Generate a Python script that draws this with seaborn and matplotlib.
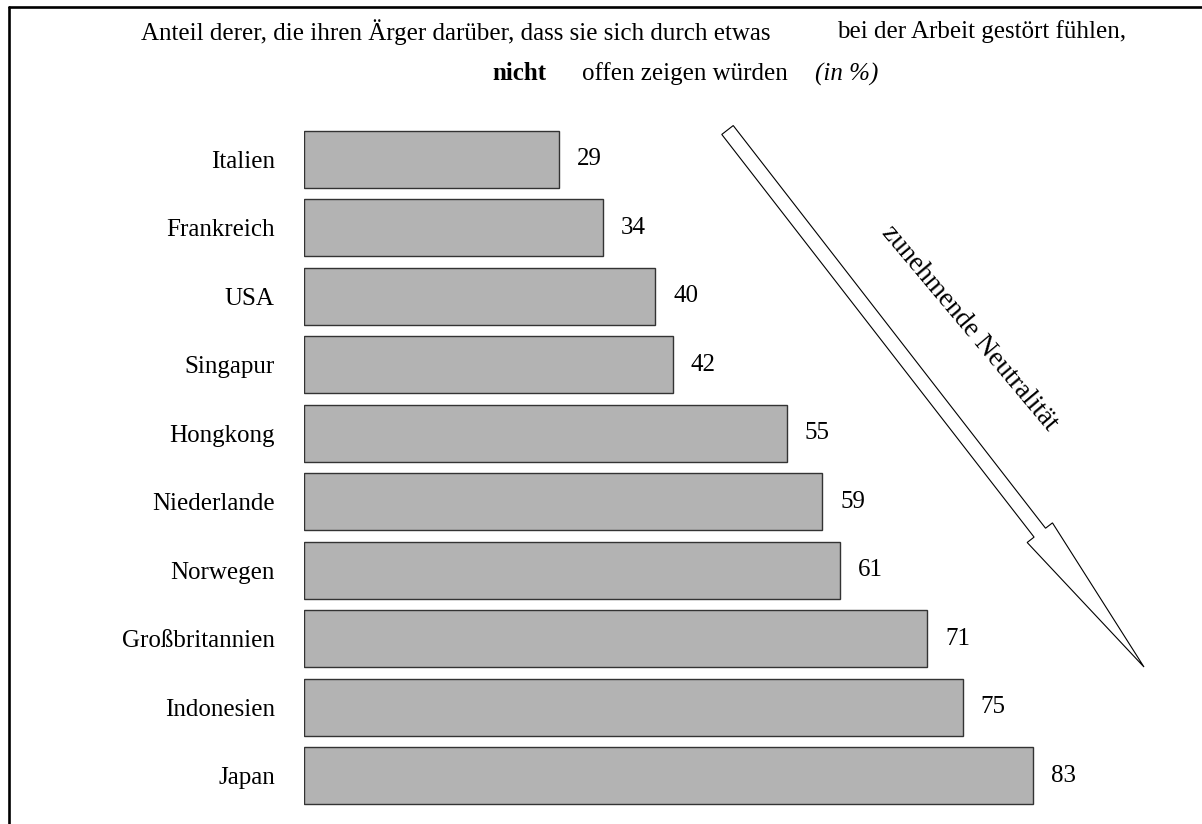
import matplotlib
matplotlib.use("Agg")
import matplotlib.pyplot as plt
from matplotlib.lines import Line2D
from matplotlib.patches import FancyArrow
import pandas as pd
import seaborn as sns

# ========== DATA ==========
countries = ["Italien", "Frankreich", "USA", "Singapur", "Hongkong",
             "Niederlande", "Norwegen", "Großbritannien", "Indonesien", "Japan"]
shares = [29, 34, 40, 42, 55, 59, 61, 71, 75, 83]

title_1a = "Anteil derer, die ihren Ärger darüber, dass sie sich durch etwas"
title_1b = "bei der Arbeit gestört fühlen,"
title_2a = "nicht"
title_2b = "offen zeigen würden"
title_2c = "(in %)"
arrow_label = "zunehmende Neutralität"

df = pd.DataFrame({"land": countries, "anteil": shares})

# ========== STYLE ==========
sns.set_theme(style="white")
plt.rcParams["font.family"] = ["Liberation Serif", "DejaVu Serif"]
plt.rcParams["text.color"] = "black"
FS = 18

W, H = 1202, 824
fig = plt.figure(figsize=(W / 100, H / 100), dpi=100)

def fx(px):
    return px / W

def fy(py):
    return 1 - py / H

# axes: x 0..100 maps to pixel 304..1182, rows span pixel 125..810
ax = fig.add_axes([fx(304), fy(810), fx(1182) - fx(304), fy(125) - fy(810)])

sns.barplot(data=df, x="anteil", y="land", orient="h", color="#b3b3b3",
            saturation=1, width=0.83, edgecolor="#333333", linewidth=1, ax=ax)

ax.set_xlim(0, 100)
ax.set_ylim(len(countries) - 0.5, -0.5)
ax.set_xlabel("")
ax.set_ylabel("")
ax.set_xticks([])
for s in ax.spines.values():
    s.set_visible(False)
ax.tick_params(axis="y", left=False, pad=15, labelsize=FS, labelcolor="black")

for c in ax.containers:
    ax.bar_label(c, padding=13, fontsize=FS, color="black")

# ========== TITLE ==========
fig.text(fx(141), fy(32), title_1a, fontsize=FS, va="center", ha="left")
fig.text(fx(837), fy(32), title_1b, fontsize=FS, va="center", ha="left")
fig.text(fx(492), fy(74), title_2a, fontsize=FS, va="center", ha="left", fontweight="bold")
fig.text(fx(582), fy(74), title_2b, fontsize=FS, va="center", ha="left")
fig.text(fx(815), fy(74), title_2c, fontsize=FS, va="center", ha="left", fontstyle="italic")

# ========== ARROW ==========
arrow = FancyArrow(7.275, (H - 130) / 100, 4.165, -5.37, width=0.145,
                   head_width=0.32, head_length=1.70, length_includes_head=True,
                   transform=fig.dpi_scale_trans, facecolor="white",
                   edgecolor="black", linewidth=0.8)
fig.add_artist(arrow)
fig.text(fx(969), fy(328), arrow_label, fontsize=19.5, rotation=-50,
         rotation_mode="anchor", ha="center", va="center")

# ========== FRAME ==========
fig.add_artist(Line2D([fx(9), fx(9)], [0, fy(6.5)], color="black", lw=1.9,
                      transform=fig.transFigure))
fig.add_artist(Line2D([fx(9), 1], [fy(6.5), fy(6.5)], color="black", lw=1.9,
                      transform=fig.transFigure))

fig.savefig("out.png", dpi=100)
